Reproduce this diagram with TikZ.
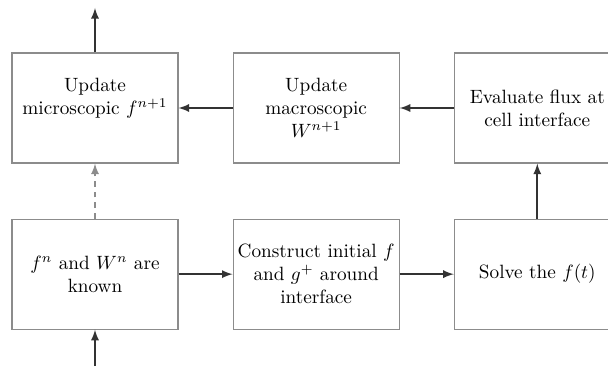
\documentclass[tikz,border=0pt]{standalone}
\usepackage{amsmath}
\usetikzlibrary{arrows, positioning}

\begin{document}
\begin{tikzpicture}[x=0.52pt,y=-0.52pt]

\tikzset{
  % boxes of the scheme
  stagebox/.style={draw=black!45, line width=0.6pt, minimum width=86.3pt,
    minimum height=57.2pt, align=center, inner sep=2pt},
  % solid and dashed connectors
  flow/.style={-latex, draw=black!80, line width=0.9pt},
  weakflow/.style={-latex, draw=black!45, line width=0.9pt, dash pattern=on 3pt off 2.5pt},
}

\useasboundingbox (0,0) rectangle (608,366);

% upper row
\node [stagebox] (micro) at (95,108) {Update\\microscopic $f^{n+1}$\\ \mbox{}};
\node [stagebox, right=28.1pt of micro] (macro) {Update\\macroscopic\\$W^{n+1}$};
\node [stagebox, right=28.1pt of macro] (flux) {Evaluate flux at\\cell interface};

% lower row
\node [stagebox, below=28.6pt of micro] (known) {$f^n$ and $W^n$ are\\known};
\node [stagebox, right=28.1pt of known] (init) {Construct initial $f$\\and $g^{+}$ around\\interface};
\node [stagebox, right=28.1pt of init] (solve) {Solve the $f(t)$};

\coordinate (out) at (95,8);
\coordinate (in) at (95,366);

\draw [flow] (in) -- (known);
\draw [flow] (known) -- (init);
\draw [flow] (init) -- (solve);
\draw [flow] (solve) -- (flux);
\draw [flow] (flux) -- (macro);
\draw [flow] (macro) -- (micro);
\draw [flow] (micro) -- (out);
\draw [weakflow] (known) -- (micro);

\end{tikzpicture}
\end{document}
